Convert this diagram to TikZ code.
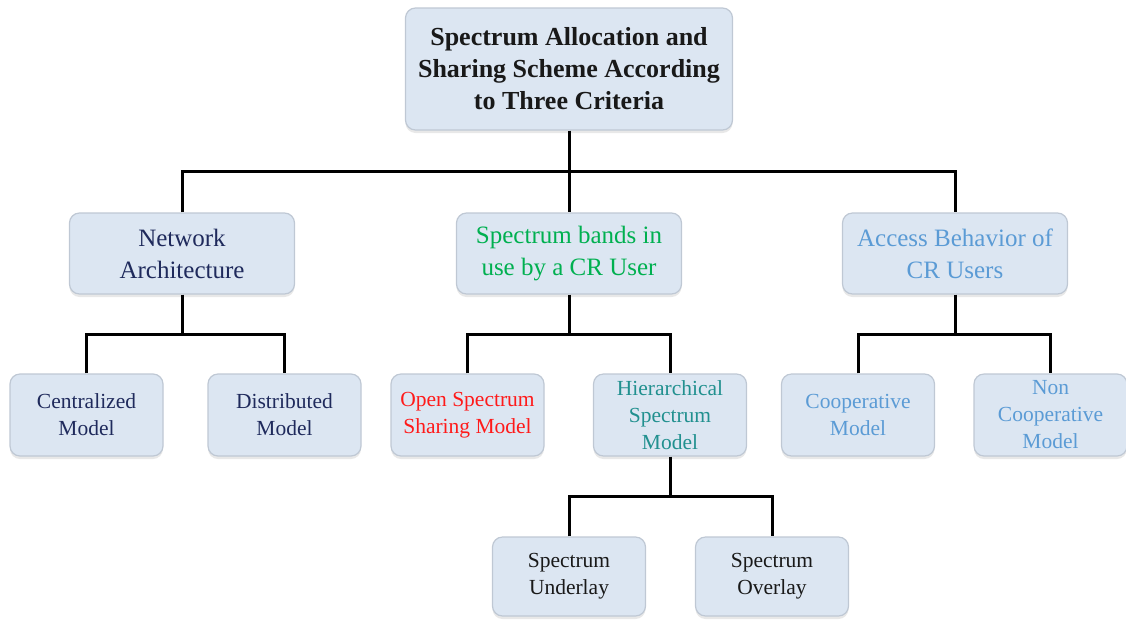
\documentclass[tikz,border=0pt]{standalone}
\usepackage{fontspec}
\setmainfont{Liberation Serif}
\usetikzlibrary{calc,shadows}
\definecolor{boxfill}{HTML}{DCE6F2}
\definecolor{boxline}{HTML}{BFC8D4}
\definecolor{navytext}{HTML}{1F2A5C}
\definecolor{greentext}{HTML}{00B050}
\definecolor{skytext}{HTML}{5B9BD5}
\definecolor{tealtext}{HTML}{21908F}
\definecolor{redtext}{HTML}{FF1A1A}
\tikzset{
  box/.style={draw=boxline, line width=1.2pt, fill=boxfill, rounded corners=10pt,
    align=center, inner sep=2pt,
    drop shadow={shadow xshift=0pt, shadow yshift=-3pt, opacity=0.18, fill=gray}},
  rootbox/.style={box, minimum width=327pt, minimum height=122pt,
    font=\fontsize{26}{32}\selectfont\bfseries, text=black!90},
  midbox/.style={box, minimum width=225pt, minimum height=81pt,
    font=\fontsize{25}{32}\selectfont},
  leafbox/.style={box, minimum width=153pt, minimum height=82pt,
    font=\fontsize{21.5}{27}\selectfont},
  conn/.style={line width=3pt, draw=black}
}
\begin{document}
\begin{tikzpicture}[x=1pt, y=-1pt]
\useasboundingbox (0,0) rectangle (1126,619);

% root
\node[rootbox] (top) at (569,69) {Spectrum Allocation and\\Sharing Scheme According\\to Three Criteria};

% three criteria
\node[midbox, text=navytext]  (net)  at (182,253.5) {Network\\Architecture};
\node[midbox, text=greentext] (spec) at (569,253.5) {Spectrum bands in\\use by a CR User};
\node[midbox, text=skytext]   (acc)  at (955,253.5) {Access Behavior of\\CR Users};

% models
\node[leafbox, text=navytext] (cen)  at (86.5,415)  {Centralized\\Model};
\node[leafbox, text=navytext] (dis)  at (284.5,415) {Distributed\\Model};
\node[leafbox, text=redtext]  (open) at (467.5,415) {Open Spectrum\\Sharing Model};
\node[leafbox, text=tealtext] (hier) at (670,415)   {Hierarchical\\Spectrum\\Model};
\node[leafbox, text=skytext]  (coop) at (858,415)   {Cooperative\\Model};
\node[leafbox, text=skytext]  (ncoop) at (1050.5,415) {Non\\Cooperative\\Model};

% hierarchical sub-models
\node[leafbox, text=black!90, minimum height=79pt] (under) at (569,576.5) {Spectrum\\Underlay};
\node[leafbox, text=black!90, minimum height=79pt] (over)  at (772,576.5) {Spectrum\\Overlay};

% branch points halfway between each parent and its children
\coordinate (j0) at ($(top.south)!0.5!(spec.north)$);
\coordinate (j1) at ($(net.south)!0.5!(net.south |- cen.north)$);
\coordinate (j2) at ($(spec.south)!0.5!(spec.south |- open.north)$);
\coordinate (j3) at ($(acc.south)!0.5!(acc.south |- coop.north)$);
\coordinate (j4) at ($(hier.south)!0.5!(hier.south |- under.north)$);

% tree connectors
\draw[conn] (top.south) -- (spec.north);
\draw[conn] (net.north) |- (j0) -| (acc.north);

\draw[conn] (net.south) -- (j1);
\draw[conn] (cen.north) |- (j1) -| (dis.north);

\draw[conn] (spec.south) -- (j2);
\draw[conn] (open.north) |- (j2) -| (hier.north);

\draw[conn] (acc.south) -- (j3);
\draw[conn] (coop.north) |- (j3) -| (ncoop.north);

\draw[conn] (hier.south) -- (j4);
\draw[conn] (under.north) |- (j4) -| (over.north);
\end{tikzpicture}
\end{document}
